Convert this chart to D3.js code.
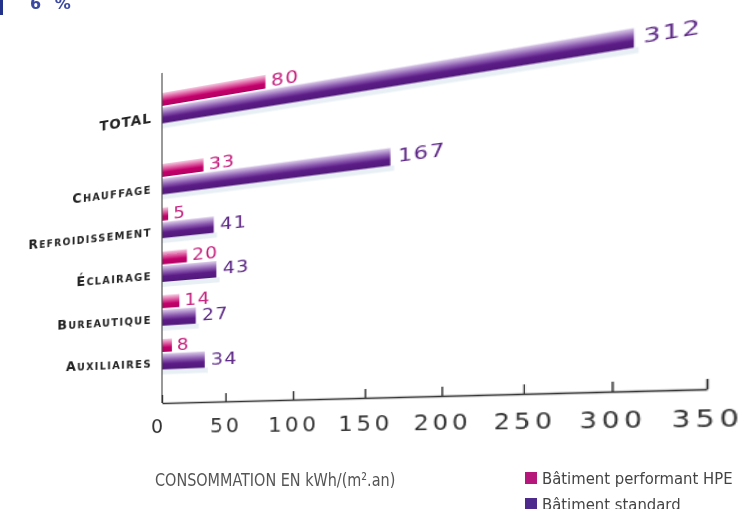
<!DOCTYPE html>
<html>
<head>
<meta charset="utf-8">
<script src="https://cdn.jsdelivr.net/npm/d3@7"></script>
<style>
  html, body { margin: 0; padding: 0; background: #fff; }
  body { width: 743px; height: 509px; overflow: hidden; position: relative; }
  #plan { position: absolute; left: 0; top: 0; transform-origin: 0 0; }
  #flat { position: absolute; left: 0; top: 0; }
</style>
</head>
<body>
<div id="plan"></div>
<svg id="flat" width="743" height="509"></svg>
<script>
"use strict";

// Donnees du graphique (de haut en bas)
var categories = ["TOTAL", "Chauffage", "Refroidissement", "Éclairage", "Bureautique", "Auxiliaires"];
var hpeValues = [80, 33, 5, 20, 14, 8];
var stdValues = [312, 167, 41, 43, 27, 34];
var tickValues = [0, 50, 100, 150, 200, 250, 300, 350];
var seriesNames = ["Bâtiment performant HPE", "Bâtiment standard"];
var seriesColors = ["#b5177a", "#4e2a8c"];
var axisTitle = "CONSOMMATION EN kWh/(m².an)";

var ox = 200;       // place a gauche de l'axe pour les libelles
var baseY = 403;    // ligne de base (axe X) dans le plan a plat

var x = d3.scaleLinear().domain([0, 350]).range([0, 431]);
var row = d3.scalePoint().domain(categories.slice(1)).range([177, 352]);

// TOTAL est separe du reste par un espace plus grand
function rowY(c) {
  if (c === "TOTAL") return row(categories[1]) - 71;
  return row(c);
}

/**
 * Le graphique est dessine a plat puis incline en perspective
 * (le cote gauche s'eloigne) avec une matrice 3D.
 */
var a = 0.9217, g = -0.000484, b = -0.2206, x0 = 162;
var m = [a, b, 0, g, 0, 1, 0, 0, 0, 0, 1, 0, x0 - ox * a, -ox * b, 0, 1 - ox * g];
d3.select("#plan").style("transform", "matrix3d(" + m.join(",") + ")");

var svg = d3.select("#plan").append("svg")
  .attr("width", 720)
  .attr("height", 509);

var defs = svg.append("defs");
addGradient(defs, "gradHpe", ["#f5cbe1", "#d94c98", "#c3006b", "#b20062"]);
addGradient(defs, "gradStd", ["#dccdea", "#8a58ae", "#5c1c87", "#50187a"]);

function addGradient(defs, id, colors) {
  var lg = defs.append("linearGradient")
    .attr("id", id)
    .attr("x1", 0).attr("y1", 0).attr("x2", 0).attr("y2", 1);
  var offsets = [0, 0.4, 0.65, 1];
  colors.forEach(function(c, i) {
    lg.append("stop").attr("offset", offsets[i]).attr("stop-color", c);
  });
}

var chart = svg.append("g").attr("transform", "translate(" + ox + ",0)");

var rows = categories.map(function(c, i) {
  return { cat: c, hpe: hpeValues[i], std: stdValues[i] };
});

var hpeH = 13, stdH = 16, gap = 1.5;

// ombre legere sous les barres standard
chart.selectAll(".shadow")
  .data(rows)
  .enter()
  .append("rect")
    .attr("class", "shadow")
    .attr("x", x(0))
    .attr("y", function(d) { return rowY(d.cat) + gap + stdH; })
    .attr("width", function(d) { return x(d.std) - x(0) + 3; })
    .attr("height", 5)
    .attr("fill", "#e3ecf3")
    .attr("opacity", 0.8);

chart.selectAll(".bar-hpe")
  .data(rows)
  .enter()
  .append("rect")
    .attr("class", "bar-hpe")
    .attr("x", x(0))
    .attr("y", function(d) { return rowY(d.cat) - hpeH; })
    .attr("width", function(d) { return x(d.hpe) - x(0); })
    .attr("height", hpeH)
    .attr("fill", "url(#gradHpe)");

chart.selectAll(".bar-std")
  .data(rows)
  .enter()
  .append("rect")
    .attr("class", "bar-std")
    .attr("x", x(0))
    .attr("y", function(d) { return rowY(d.cat) + gap; })
    .attr("width", function(d) { return x(d.std) - x(0); })
    .attr("height", stdH)
    .attr("fill", "url(#gradStd)");

// valeurs au bout des barres
chart.selectAll(".val-hpe")
  .data(rows)
  .enter()
  .append("text")
    .attr("class", "val-hpe")
    .attr("transform", function(d) {
      return "translate(" + (x(d.hpe) + 5) + "," + (rowY(d.cat) - hpeH / 2) + ") scale(1.2,1)";
    })
    .attr("dy", "0.36em")
    .attr("font-family", "DejaVu Sans")
    .attr("font-size", 15)
    .attr("letter-spacing", 1)
    .attr("fill", "#c41f7d")
    .text(function(d) { return d.hpe; });

chart.selectAll(".val-std")
  .data(rows)
  .enter()
  .append("text")
    .attr("class", "val-std")
    .attr("transform", function(d) {
      return "translate(" + (x(d.std) + 6) + "," + (rowY(d.cat) + gap + stdH / 2) + ") scale(1.2,1)";
    })
    .attr("dy", "0.36em")
    .attr("font-family", "DejaVu Sans")
    .attr("font-size", 15)
    .attr("letter-spacing", 1)
    .attr("fill", "#5b2585")
    .text(function(d) { return d.std; });

// libelles des categories
chart.selectAll(".cat")
  .data(rows)
  .enter()
  .append("text")
    .attr("class", "cat")
    .attr("x", -10)
    .attr("y", function(d) { return rowY(d.cat) + gap + stdH / 2; })
    .attr("dy", "0.36em")
    .attr("text-anchor", "end")
    .attr("font-family", "DejaVu Sans")
    .attr("font-weight", "bold")
    .attr("font-size", 14)
    .attr("letter-spacing", function(d) { return d.cat === "TOTAL" ? 1 : 1.4; })
    .style("font-variant", "small-caps")
    .attr("fill", "#222")
    .text(function(d) { return d.cat; });

// axe vertical
chart.append("line")
  .attr("x1", x(0)).attr("x2", x(0))
  .attr("y1", 73).attr("y2", baseY)
  .attr("stroke", "#555")
  .attr("stroke-width", 1.2);

// axe horizontal
var xAxis = d3.axisBottom(x)
  .tickValues(tickValues)
  .tickSize(-8)
  .tickSizeOuter(0)
  .tickPadding(17);

var axisG = chart.append("g")
  .attr("class", "x axis")
  .attr("transform", "translate(0," + baseY + ")")
  .call(xAxis);

axisG.select(".domain").attr("stroke", "#333").attr("stroke-width", 1.6);
axisG.selectAll(".tick line").attr("stroke", "#333").attr("stroke-width", 1.4);
axisG.selectAll(".tick text")
  .attr("font-family", "DejaVu Sans")
  .attr("font-size", 19)
  .attr("letter-spacing", 3)
  .attr("fill", "#333");
axisG.selectAll(".tick text").filter(function(d) { return d === 0; })
  .attr("x", -4);

// Partie non inclinee : titre de l'axe, legende, reste de la page
var flat = d3.select("#flat");

flat.append("text")
  .attr("transform", "translate(155,486) scale(0.89,1)")
  .attr("font-family", "DejaVu Sans Condensed, DejaVu Sans")
  .attr("font-size", 18)
  .attr("fill", "#555")
  .text(axisTitle);

var legend = flat.selectAll(".legend")
  .data(seriesNames)
  .enter()
  .append("g")
    .attr("class", "legend")
    .attr("transform", function(d, i) { return "translate(525," + (472 + i * 26) + ")"; });

legend.append("rect")
  .attr("width", 12)
  .attr("height", 12)
  .attr("fill", function(d, i) { return seriesColors[i]; });

legend.append("text")
  .attr("x", 17)
  .attr("y", 6)
  .attr("dy", "0.36em")
  .attr("font-family", "DejaVu Sans Condensed, DejaVu Sans")
  .attr("font-size", 16.5)
  .attr("fill", "#444")
  .text(function(d) { return d; });

// morceau de la page voisine en haut a gauche
flat.append("rect")
  .attr("x", 0).attr("y", 0)
  .attr("width", 3).attr("height", 15)
  .attr("fill", "#22318a");

flat.append("text")
  .attr("x", 30)
  .attr("y", 9)
  .attr("font-family", "DejaVu Sans")
  .attr("font-weight", "bold")
  .attr("font-size", 16)
  .attr("letter-spacing", 4)
  .attr("fill", "#3b4a9f")
  .text("6 %");
</script>
</body>
</html>
